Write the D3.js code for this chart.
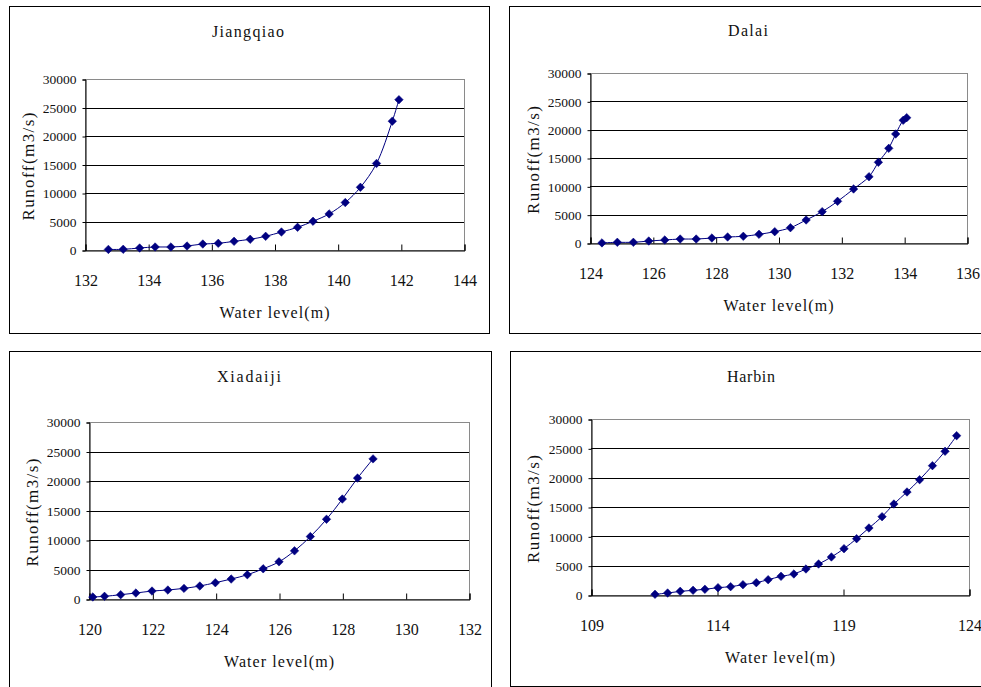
<!DOCTYPE html>
<html>
<head>
<meta charset="utf-8">
<script src="https://cdn.jsdelivr.net/npm/d3@7"></script>
<style>
    body { margin: 0; background: #fff; }
    text { font-family: 'Liberation Serif', 'DejaVu Serif', serif; fill: #111; }
</style>
</head>
<body>
<div id="draw"></div>
<script>
// data
let jiangqiao_level = [132.74, 133.21, 133.73, 134.22, 134.72, 135.23, 135.73, 136.22, 136.72, 137.23,
    137.72, 138.22, 138.73, 139.22, 139.73, 140.24, 140.72, 141.23, 141.73, 141.94];
let jiangqiao_runoff = [100, 120, 350, 530, 530, 700, 1050, 1170, 1520, 1880,
    2400, 3160, 3980, 5040, 6330, 8320, 11000, 15180, 22600, 26370];

let dalai_level = [124.38, 124.87, 125.38, 125.87, 126.38, 126.87, 127.38, 127.88, 128.38, 128.88,
    129.38, 129.88, 130.38, 130.88, 131.39, 131.88, 132.39, 132.88, 133.18, 133.51, 133.73, 133.97, 134.08];
let dalai_runoff = [20, 120, 120, 350, 530, 700, 700, 880, 1060, 1180,
    1530, 2000, 2700, 4060, 5530, 7350, 9530, 11700, 14240, 16700, 19240, 21650, 22120];

let xiadaiji_level = [120.12, 120.49, 121.0, 121.48, 121.99, 122.49, 123.0, 123.5, 123.99, 124.49,
    125.0, 125.5, 126.0, 126.49, 126.99, 127.5, 128.0, 128.48, 128.97];
let xiadaiji_runoff = [340, 450, 730, 1010, 1350, 1520, 1800, 2200, 2760, 3380,
    4110, 5120, 6300, 8160, 10580, 13510, 16940, 20490, 23750];

let harbin_level = [111.54, 112.04, 112.54, 113.05, 113.52, 114.04, 114.54, 115.03, 115.56, 116.03,
    116.54, 117.05, 117.53, 118.03, 118.54, 119.04, 119.54, 120.03, 120.55, 121.02,
    121.54, 122.04, 122.55, 123.05, 123.51];
let harbin_runoff = [110, 340, 620, 800, 970, 1250, 1420, 1760, 2100, 2610,
    3180, 3580, 4430, 5280, 6480, 7900, 9600, 11420, 13350, 15510,
    17560, 19660, 22050, 24490, 27160];

let names = ['Jiangqiao', 'Dalai', 'Xiadaiji', 'Harbin'];
let x_ticks = [
    [132, 134, 136, 138, 140, 142, 144],
    [124, 126, 128, 130, 132, 134, 136],
    [120, 122, 124, 126, 128, 130, 132],
    [109, 114, 119, 124]
];
let y_ticks = [0, 5000, 10000, 15000, 20000, 25000, 30000];
let x_label = 'Water level(m)',
    y_label = 'Runoff(m3/s)';

// layout of each panel: frame box, plot box, title position
let panels = [
    { frame: [9, 6, 489, 333], plot: [85, 79, 464, 250], title: [248, 32], ylab: 28, level: jiangqiao_level, runoff: jiangqiao_runoff },
    { frame: [509, 6, 990, 333], plot: [590, 73, 967, 243], title: [748, 31], ylab: 533, level: dalai_level, runoff: dalai_runoff },
    { frame: [9, 351, 491, 700], plot: [89, 422, 469, 599], title: [249, 377], ylab: 32, level: xiadaiji_level, runoff: xiadaiji_runoff },
    { frame: [510, 351, 990, 686], plot: [591, 419, 969, 595], title: [751, 377], ylab: 533, level: harbin_level, runoff: harbin_runoff }
];

let width = 981,
    height = 687,
    navy = '#000080';

let svg = d3.select('#draw').append('svg').attr('width', width).attr('height', height);

panels.forEach((p, k) => {
    let [l, t, r, b] = p.plot;
    let g = svg.append('g');

    // outer frame
    g.append('rect')
        .attr('x', p.frame[0] + 0.5)
        .attr('y', p.frame[1] + 0.5)
        .attr('width', p.frame[2] - p.frame[0])
        .attr('height', p.frame[3] - p.frame[1])
        .style('fill', 'none')
        .style('stroke', '#000')
        .style('stroke-width', 1);

    let xt = x_ticks[k];
    let x = d3.scaleLinear().domain([xt[0], xt[xt.length - 1]]).range([l, r]);
    let y = d3.scaleLinear().domain([0, 30000]).range([b, t]);

    // plot area border
    g.append('rect')
        .attr('x', l + 0.5)
        .attr('y', t + 0.5)
        .attr('width', r - l)
        .attr('height', b - t)
        .style('fill', 'none')
        .style('stroke', '#8a8a8a');

    // gridlines
    g.append('g')
        .selectAll('line')
        .data(y_ticks.filter(d => d > 0 && d < 30000))
        .enter()
        .append('line')
        .attr('x1', l)
        .attr('x2', r)
        .attr('y1', d => Math.round(y(d)) + 0.5)
        .attr('y2', d => Math.round(y(d)) + 0.5)
        .style('stroke', '#000');

    // y axis
    let ya = g.append('g')
        .attr('transform', 'translate(' + (l + 0.5) + ',0.5)')
        .call(d3.axisLeft(y).tickValues(y_ticks).tickSize(3).tickPadding(6).tickFormat(d3.format('d')));
    ya.select('.domain').style('stroke', '#000');
    ya.selectAll('.tick line').style('stroke', '#000');
    ya.selectAll('text').style('font-size', '13.5px').style('font-family', "'Liberation Serif', serif").attr('fill', '#111');

    // x axis, ticks point inwards
    let xa = g.append('g')
        .attr('transform', 'translate(0.5,' + (b + 0.5) + ')')
        .call(d3.axisBottom(x).tickValues(xt).tickSize(-6).tickPadding(24).tickFormat(d3.format('d')));
    xa.select('.domain').style('stroke', '#000');
    xa.selectAll('.tick line').style('stroke', '#000');
    xa.selectAll('text').style('font-size', '16px').style('font-family', "'Liberation Serif', serif").attr('fill', '#111');

    // title and axis labels
    g.append('text')
        .text(names[k])
        .attr('x', p.title[0])
        .attr('y', p.title[1] + 5)
        .attr('text-anchor', 'middle')
        .attr('textLength', names[k].length * 8)
        .attr('lengthAdjust', 'spacing')
        .style('font-size', '16px');

    g.append('text')
        .text(x_label)
        .attr('x', (l + r) / 2)
        .attr('y', b + 68)
        .attr('text-anchor', 'middle')
        .attr('textLength', 110)
        .attr('lengthAdjust', 'spacing')
        .style('font-size', '16px');

    g.append('text')
        .text(y_label)
        .attr('transform', 'translate(' + (p.ylab + 6) + ',' + ((t + b) / 2 + 2) + ') rotate(-90)')
        .attr('text-anchor', 'middle')
        .attr('textLength', 108)
        .attr('lengthAdjust', 'spacing')
        .style('font-size', '17px');

    // smoothed line and diamond markers
    let pts = p.level.map((d, i) => [d, p.runoff[i]]);
    let line = d3.line()
        .x(d => x(d[0]))
        .y(d => y(d[1]))
        .curve(d3.curveCatmullRom.alpha(0.5));

    g.append('path')
        .datum(pts)
        .attr('d', line)
        .style('fill', 'none')
        .style('stroke', navy)
        .style('stroke-width', 1);

    g.append('g')
        .selectAll('path')
        .data(pts)
        .enter()
        .append('path')
        .attr('d', d3.symbol().type(d3.symbolSquare).size(36))
        .attr('transform', d => 'translate(' + x(d[0]) + ',' + y(d[1]) + ') rotate(45)')
        .style('fill', navy)
        .style('stroke', navy)
        .style('stroke-width', 0.5);
});
</script>
</body>
</html>
